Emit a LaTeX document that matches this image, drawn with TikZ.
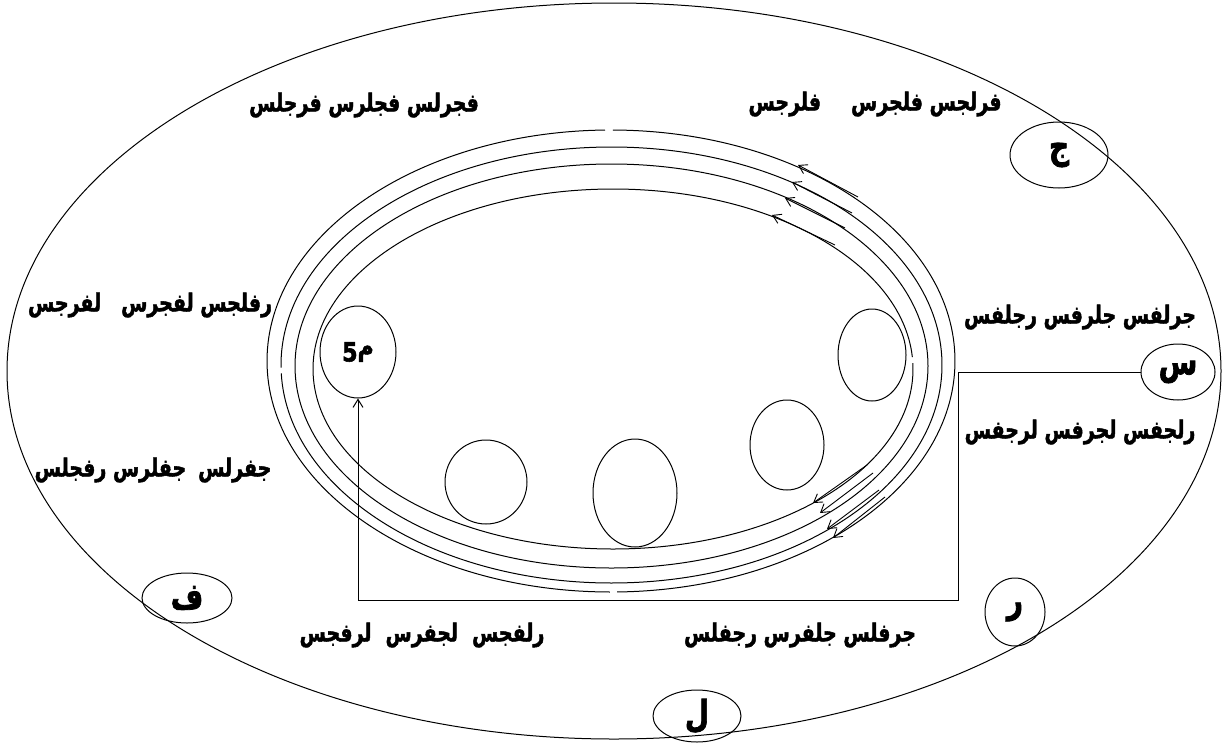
\documentclass[tikz,border=0pt]{standalone}
\usepackage{fontspec}
\usetikzlibrary{shapes.geometric,arrows.meta}
\newfontfamily\arfont[Script=Arabic,BoldFont={DejaVu Sans Bold},BoldFeatures={FakeBold=2.2}]{DejaVu Sans}
\TeXXeTstate=1
\newcommand\artxt[1]{\scalebox{1}[1.3]{\beginR #1\endR}}
\begin{document}
\begin{tikzpicture}[x=1pt,y=-1pt,line width=1pt,
  lbl/.style={font=\arfont\bfseries\fontsize{19}{21}\selectfont, inner sep=0pt},
  letter/.style={draw, ellipse, inner sep=0pt, font=\arfont\bfseries\fontsize{28}{30}\selectfont},
  blob/.style={draw, ellipse, inner sep=0pt},
  arr/.style={-{Straight Barb[length=8pt,width=10pt]}, line width=0.9pt}]
\useasboundingbox (0,0) rectangle (1223,745);
% outer ellipse
\draw (614,371) ellipse [x radius=607, y radius=368];
% rings
\draw ([shift={(270.3:344 and 231)}]611,361) arc[start angle=270.3, end angle=449, x radius=344, y radius=231];
\draw ([shift={(90.2:344 and 231)}]611,361) arc[start angle=90.2, end angle=269, x radius=344, y radius=231];
\draw ([shift={(179.3:330.5 and 218)}]611.5,365) arc[start angle=179.3, end angle=537.8, x radius=330.5, y radius=218];
\draw (611.5,366) ellipse [x radius=316.5, y radius=202];
\draw ([shift={(358.1:300 and 180)}]613,369) arc[start angle=358.1, end angle=716.2, x radius=300, y radius=180];
% inner blobs
\node[blob, minimum width=68pt, minimum height=92pt] (o1) at (872,355) {};
\node[blob, minimum width=74pt, minimum height=90pt] (o2) at (787,445) {};
\node[blob, minimum width=84pt, minimum height=108pt] (o3) at (635,493) {};
\node[blob, minimum width=82pt, minimum height=84pt] (o4) at (486,482) {};
\node[blob, minimum width=76pt, minimum height=92pt, font=\arfont\bfseries\fontsize{22}{24}\selectfont] (M) at (358,352) {\scalebox{1}[1.2]{5}\raisebox{6pt}{\scalebox{1}[1.2]{م}}};
% letter ellipses
\node[letter, minimum width=98pt, minimum height=66pt] (J) at (1059,155) {\artxt{ج}};
\node[letter, minimum width=90pt, minimum height=50pt] (F) at (187,598) {\artxt{ف}};
\node[letter, minimum width=60pt, minimum height=68pt] (R) at (1015,612) {\artxt{ر}};
\node[letter, minimum width=88pt, minimum height=52pt] (L) at (697,716) {\artxt{ل}};
\node[letter, minimum width=74pt, minimum height=56pt] (S) at (1178,372) {\artxt{س}};
% labels
\node[lbl] (t1) at (364,105) {\artxt{فجرلس فجلرس فرجلس}};
\node[lbl] (t2) at (875,104) {\artxt{فرلجس فلجرس\hspace{30pt}فلرجس}};
\node[lbl] (t3) at (150,305) {\artxt{رفلجس لفجرس\hspace{20pt}لفرجس}};
\node[lbl] (t4) at (153,470) {\artxt{جفرلس\hspace{12pt}جفلرس رفجلس}};
\node[lbl] (t5) at (1080,317) {\artxt{جرلفس جلرفس رجلفس}};
\node[lbl] (t6) at (1080,432) {\artxt{رلجفس لجرفس لرجفس}};
\node[lbl] (t7) at (422,635) {\artxt{رلفجس\hspace{14pt}لجفرس\hspace{14pt}لرفجس}};
\node[lbl] (t8) at (800,635) {\artxt{جرفلس جلفرس رجفلس}};
% connector
\coordinate (cR) at (958,600);
\draw[-{Straight Barb[length=8pt,width=10pt]}] (S.west) -| (cR) -| (M.south);
% arrows top right
\coordinate (a1s) at (858,197); \coordinate (a1e) at (798,165);
\coordinate (a2s) at (852,213); \coordinate (a2e) at (792,182);
\coordinate (a3s) at (845,228); \coordinate (a3e) at (785,198);
\coordinate (a4s) at (835,245); \coordinate (a4e) at (772,215);
\draw[arr] (a1s) -- (a1e);
\draw[arr] (a2s) -- (a2e);
\draw[arr] (a3s) -- (a3e);
\draw[arr] (a4s) -- (a4e);
% arrows bottom right
\coordinate (b1s) at (867,465); \coordinate (b1e) at (813,503);
\coordinate (b2s) at (873,473); \coordinate (b2e) at (820,513);
\coordinate (b3s) at (879,490); \coordinate (b3e) at (827,529);
\coordinate (b4s) at (885,497); \coordinate (b4e) at (833,538);
\draw[arr] (b1s) -- (b1e);
\draw[arr] (b2s) -- (b2e);
\draw[arr] (b3s) -- (b3e);
\draw[arr] (b4s) -- (b4e);
\end{tikzpicture}
\end{document}
